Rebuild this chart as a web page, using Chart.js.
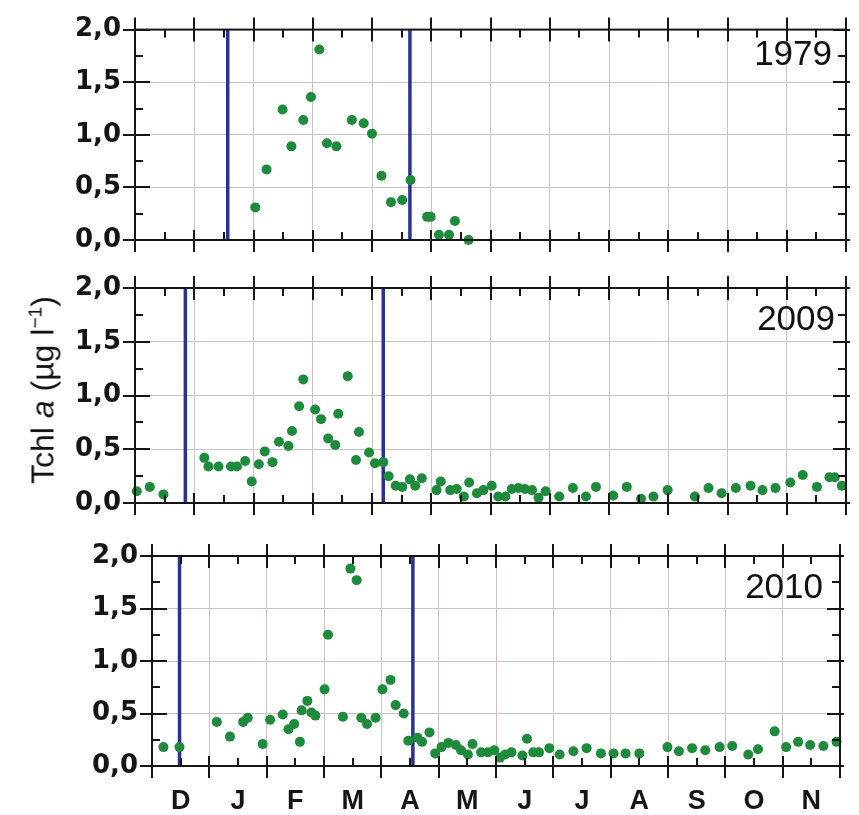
<!DOCTYPE html>
<html>
<head>
<meta charset="utf-8">
<script src="https://cdn.jsdelivr.net/npm/chart.js@4"></script>
<style>
  html, body { margin: 0; padding: 0; background: #fff; }
  #wrap { position: relative; width: 859px; height: 815px; overflow: hidden; background: #fff; }
  canvas { position: absolute; left: 0; top: 0; }
  .year { position: absolute; font: 35px 'Liberation Sans', Arial, sans-serif; color: #111; line-height: 1; text-align: right; }
  #ytitle {
    position: absolute; left: 43px; top: 390px;
    transform: translate(-50%, -50%) rotate(-90deg);
    font: 32px 'Liberation Sans', Arial, sans-serif; color: #111; white-space: nowrap;
  }
  #ytitle sup { font-size: 60%; }
</style>
</head>
<body>
<div id="wrap">
  <canvas id="c1979" width="859" height="815"></canvas>
  <canvas id="c2009" width="859" height="815"></canvas>
  <canvas id="c2010" width="859" height="815"></canvas>
  <div class="year" style="right:27px; top:35px">1979</div>
  <div class="year" style="right:24px; top:300px">2009</div>
  <div class="year" style="right:36px; top:568px">2010</div>
  <div id="ytitle">Tchl <i>a</i> (µg l<sup>−1</sup>)</div>
</div>
<script>
// ─── Data ─────────────────────────────────────────────
// x = months since 1 December, y = Tchl a (µg l-1)
const months = ['D', 'J', 'F', 'M', 'A', 'M', 'J', 'J', 'A', 'S', 'O', 'N']
const yTicks = [0, 0.5, 1, 1.5, 2]

const x1979   = [2.03, 2.22, 2.49, 2.64, 2.84, 2.97, 3.11, 3.24, 3.40, 3.66, 3.86, 4.00, 4.16, 4.32, 4.51, 4.65, 4.93, 4.99, 5.13, 5.30, 5.40, 5.63]
const chl1979 = [0.31, 0.67, 1.24, 0.89, 1.14, 1.36, 1.81, 0.92, 0.89, 1.14, 1.11, 1.01, 0.61, 0.36, 0.38, 0.57, 0.22, 0.22, 0.05, 0.05, 0.18, 0.00]
const bloom1979 = [1.565, 4.64]

const x2009   = [0.03, 0.25, 0.48, 1.17, 1.24, 1.41, 1.62, 1.72, 1.86, 1.97, 2.09, 2.19, 2.32, 2.43, 2.59, 2.65, 2.77, 2.84,
                 3.04, 3.14, 3.26, 3.38, 3.43, 3.59, 3.73, 3.78, 3.95, 4.05, 4.19, 4.28, 4.40, 4.51, 4.64, 4.73, 4.84,
                 5.09, 5.16, 5.32, 5.43, 5.55, 5.64, 5.77, 5.88, 6.02, 6.13, 6.25, 6.36, 6.47, 6.58, 6.70, 6.81, 6.93,
                 7.16, 7.39, 7.61, 7.78, 8.07, 8.30, 8.54, 8.75, 8.99, 9.45, 9.68, 9.90, 10.14, 10.39, 10.59, 10.81,
                 11.06, 11.27, 11.51, 11.72, 11.81, 11.93]
const chl2009 = [0.11, 0.15, 0.08, 0.42, 0.34, 0.34, 0.34, 0.34, 0.39, 0.20, 0.36, 0.48, 0.38, 0.57, 0.53, 0.67, 0.90, 1.15,
                 0.87, 0.78, 0.60, 0.54, 0.83, 1.18, 0.40, 0.66, 0.47, 0.37, 0.38, 0.25, 0.16, 0.15, 0.22, 0.16, 0.23,
                 0.12, 0.20, 0.12, 0.13, 0.06, 0.19, 0.09, 0.12, 0.16, 0.06, 0.06, 0.13, 0.14, 0.13, 0.12, 0.05, 0.11,
                 0.06, 0.14, 0.06, 0.15, 0.07, 0.15, 0.04, 0.06, 0.12, 0.06, 0.14, 0.09, 0.14, 0.16, 0.12, 0.14,
                 0.19, 0.26, 0.15, 0.24, 0.24, 0.16]
const bloom2009 = [0.85, 4.19]

const x2010   = [0.20, 0.48, 1.13, 1.36, 1.59, 1.67, 1.93, 2.06, 2.28, 2.38, 2.48, 2.58, 2.61, 2.71, 2.78, 2.85,
                 3.01, 3.07, 3.33, 3.46, 3.57, 3.65, 3.75, 3.90, 4.02, 4.16, 4.25, 4.39, 4.47, 4.63, 4.71, 4.84, 4.94,
                 5.05, 5.17, 5.30, 5.39, 5.51, 5.59, 5.74, 5.86, 5.97, 6.07, 6.16, 6.27, 6.46, 6.54, 6.65, 6.75, 6.93,
                 7.11, 7.35, 7.58, 7.83, 8.05, 8.26, 8.50, 8.99, 9.19, 9.42, 9.65, 9.90, 10.12, 10.40, 10.57, 10.86,
                 11.06, 11.27, 11.48, 11.71, 11.94]
const chl2010 = [0.18, 0.18, 0.42, 0.28, 0.42, 0.46, 0.21, 0.44, 0.49, 0.35, 0.40, 0.23, 0.53, 0.62, 0.51, 0.48,
                 0.73, 1.25, 0.47, 1.88, 1.77, 0.46, 0.40, 0.46, 0.73, 0.82, 0.58, 0.50, 0.24, 0.27, 0.23, 0.32, 0.12,
                 0.18, 0.22, 0.20, 0.15, 0.11, 0.21, 0.13, 0.13, 0.15, 0.08, 0.11, 0.13, 0.10, 0.26, 0.13, 0.13, 0.17,
                 0.11, 0.14, 0.17, 0.12, 0.12, 0.12, 0.12, 0.18, 0.14, 0.17, 0.15, 0.18, 0.19, 0.11, 0.16, 0.33,
                 0.18, 0.23, 0.20, 0.19, 0.23]
const bloom2010 = [0.48, 4.55]

// ─── Style ────────────────────────────────────────────
const PAGE_W = 859
const PAGE_H = 815
const GREEN  = '#1e8a3c'
const BLUE   = '#2b3190'
const GRID   = '#cdc2c2'
const INK    = '#151515'
const labelFont = { family: "'DejaVu Sans', sans-serif", size: 26, weight: 'bold' }
const monthFont = { family: "'Liberation Sans', Arial, sans-serif", size: 27, weight: 'bold' }

const monthTicks = []
for (let m = 0; m <= 12; m += 0.5) monthTicks.push(m)
const minorY = []
for (let v = 0; v <= 2; v += 0.25) minorY.push(v)

// ─── Frame + inner/outer tick marks ───────────────────
const frameTicks = {
  id: 'frameTicks',
  afterDraw(chart) {
    const { ctx, chartArea: a, scales: { x, y } } = chart
    ctx.save()
    ctx.strokeStyle = INK
    ctx.lineWidth = 2
    ctx.strokeRect(a.left, a.top, a.right - a.left, a.bottom - a.top)
    ctx.beginPath()
    monthTicks.forEach(m => {
      const px = Math.round(x.getPixelForValue(m))
      if (m % 1 === 0) {
        ctx.moveTo(px, a.top - 12);    ctx.lineTo(px, a.top + 12)
        ctx.moveTo(px, a.bottom - 10); ctx.lineTo(px, a.bottom + 12)
      } else {
        ctx.moveTo(px, a.top);        ctx.lineTo(px, a.top + 8)
        ctx.moveTo(px, a.bottom - 8); ctx.lineTo(px, a.bottom)
      }
    })
    minorY.forEach(v => {
      const py = Math.round(y.getPixelForValue(v))
      if (v % 0.5 === 0) {
        ctx.moveTo(a.left - 12, py);  ctx.lineTo(a.left + 15, py)
        ctx.moveTo(a.right - 13, py); ctx.lineTo(a.right + 4, py)
      } else {
        ctx.moveTo(a.left, py);      ctx.lineTo(a.left + 8, py)
        ctx.moveTo(a.right - 8, py); ctx.lineTo(a.right, py)
      }
    })
    ctx.stroke()
    ctx.restore()
  }
}

// ─── Panel factory ────────────────────────────────────
function makePanel(id, box, xs, ys, bloom, showMonths) {
  const xSpace = showMonths ? PAGE_H - box.bottom : 0
  const dots = xs.map((x, i) => ({ x, y: ys[i] }))

  return new Chart(document.getElementById(id), {
    type: 'scatter',
    data: {
      datasets: [
        {
          data: dots,
          backgroundColor: GREEN,
          borderColor: GREEN,
          borderWidth: 0,
          pointRadius: 5,
          clip: false
        },
        ...bloom.map(b => ({
          data: [{ x: b, y: 0 }, { x: b, y: 2 }],
          showLine: true,
          borderColor: BLUE,
          borderWidth: 3.5,
          pointRadius: 0
        }))
      ]
    },
    options: {
      responsive: false,
      animation: false,
      events: [],
      layout: {
        padding: { left: 0, top: box.top, right: PAGE_W - box.right, bottom: PAGE_H - box.bottom - xSpace }
      },
      plugins: { legend: { display: false }, tooltip: { enabled: false } },
      scales: {
        x: {
          type: 'linear',
          min: 0,
          max: 12,
          afterBuildTicks: s => { s.ticks = monthTicks.map(v => ({ value: v })) },
          afterFit: s => { s.height = xSpace },
          border: { display: false },
          grid: {
            drawTicks: false,
            lineWidth: 1,
            color: c => (c.tick && c.tick.value % 1 === 0 ? GRID : 'rgba(0,0,0,0)')
          },
          ticks: {
            display: showMonths,
            autoSkip: false,
            maxRotation: 0,
            padding: 19,
            color: INK,
            font: monthFont,
            callback: v => (v % 1 ? months[Math.floor(v)] : '')
          }
        },
        y: {
          type: 'linear',
          min: 0,
          max: 2,
          afterBuildTicks: s => { s.ticks = yTicks.map(v => ({ value: v })) },
          afterFit: s => { s.width = box.left },
          border: { display: false },
          grid: { drawTicks: false, lineWidth: 1, color: GRID },
          ticks: {
            padding: 14,
            color: INK,
            font: labelFont,
            callback: v => v.toFixed(1).replace('.', ',')
          }
        }
      }
    },
    plugins: [frameTicks]
  })
}

// ─── Start ────────────────────────────────────────────
makePanel('c1979', { left: 135, right: 846, top: 25,  bottom: 240 }, x1979, chl1979, bloom1979, false)
makePanel('c2009', { left: 135, right: 846, top: 288, bottom: 503 }, x2009, chl2009, bloom2009, false)
makePanel('c2010', { left: 152, right: 842, top: 556, bottom: 766 }, x2010, chl2010, bloom2010, true)
</script>
</body>
</html>
